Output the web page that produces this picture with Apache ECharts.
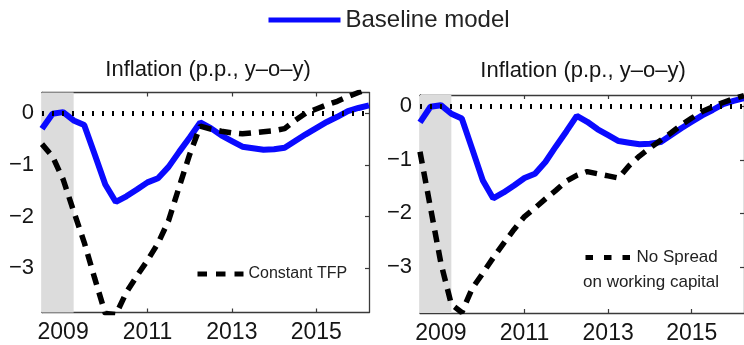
<!DOCTYPE html>
<html>
<head>
<meta charset="utf-8">
<script src="https://cdn.jsdelivr.net/npm/echarts@6/dist/echarts.min.js"></script>
<style>
  html, body { margin: 0; padding: 0; background: #fff; }
  #chart { width: 744px; height: 345px; }
</style>
</head>
<body>
<div id="chart"></div>
<script>
// Quarterly observations (decimal years)
const quarters = [2008.5, 2008.75, 2009, 2009.25, 2009.5, 2009.75, 2010, 2010.25,
  2010.5, 2010.75, 2011, 2011.25, 2011.5, 2011.75, 2012, 2012.25,
  2012.5, 2012.75, 2013, 2013.25, 2013.5, 2013.75, 2014, 2014.25,
  2014.5, 2014.75, 2015, 2015.25, 2015.5, 2015.75, 2016, 2016.25];

// Inflation deviation, percentage points y-o-y
const baseline = [-0.30, -0.01, 0.02, -0.14, -0.23, -0.80, -1.38, -1.72,
  -1.61, -1.48, -1.34, -1.26, -1.04, -0.75, -0.47, -0.18,
  -0.29, -0.43, -0.54, -0.65, -0.68, -0.71, -0.70, -0.67,
  -0.54, -0.41, -0.29, -0.17, -0.07, 0.04, 0.10, 0.15];
const constantTFP = [-0.60, -0.84, -1.28, -1.90, -2.50, -3.20, -3.88, -3.90,
  -3.47, -3.15, -2.85, -2.52, -2.08, -1.43, -0.80, -0.25,
  -0.31, -0.35, -0.38, -0.40, -0.38, -0.36, -0.34, -0.30,
  -0.14, 0.00, 0.08, 0.16, 0.23, 0.32, 0.40, 0.47];
const noSpread = [-0.85, -1.89, -2.93, -3.70, -3.85, -3.40, -3.12, -2.83,
  -2.56, -2.30, -2.06, -1.90, -1.73, -1.57, -1.40, -1.29,
  -1.22, -1.26, -1.30, -1.34, -1.11, -0.93, -0.78, -0.64,
  -0.50, -0.35, -0.22, -0.10, -0.01, 0.07, 0.14, 0.20];

const yearTicks = [2009, 2011, 2013, 2015];
const valueTicks = [-3, -2, -1, 0];
const recession = [2008.5, 2009.25];
const panelTitle = 'Inflation (p.p., y\u2013o\u2013y)';

const FONT = '"Liberation Sans", Arial, Helvetica, sans-serif';
const INK = '#151515';
const AXIS = '#3a3a3a';
const BLUE = '#0a0aff';

const pairs = ys => quarters.map((q, i) => [q, ys[i]]);

const panels = [
  { left: 42, top: 92.5, width: 327, height: 220, ymin: -3.86, ymax: 0.40 },
  { left: 420, top: 95, width: 325, height: 219, ymin: -3.86, ymax: 0.21 }
];

const grid = panels.map(p => ({ left: p.left, top: p.top, width: p.width, height: p.height, containLabel: false }));

const tickStyle = { show: true, inside: true, length: 4, lineStyle: { color: AXIS, width: 1.2 } };
const lineStyleAxis = { show: true, onZero: false, lineStyle: { color: AXIS, width: 1.3 } };

const xAxis = [];
const yAxis = [];
panels.forEach((p, g) => {
  ['bottom', 'top'].forEach(pos => {
    xAxis.push({
      type: 'value', gridIndex: g, position: pos,
      min: quarters[0], max: quarters[quarters.length - 1],
      axisLine: lineStyleAxis,
      axisTick: Object.assign({ customValues: yearTicks }, tickStyle),
      axisLabel: {
        show: pos === 'bottom', customValues: yearTicks, margin: 9,
        fontSize: 23, color: INK, fontFamily: FONT,
        formatter: v => String(v)
      },
      splitLine: { show: false }
    });
  });
  ['left', 'right'].forEach(pos => {
    yAxis.push({
      type: 'value', gridIndex: g, position: pos,
      min: p.ymin, max: p.ymax,
      axisLine: lineStyleAxis,
      axisTick: Object.assign({ customValues: valueTicks }, tickStyle),
      axisLabel: {
        show: pos === 'left', customValues: valueTicks, margin: 8,
        fontSize: 22, color: INK, fontFamily: FONT,
        formatter: v => (v < 0 ? '\u2212' + Math.abs(v) : String(v))
      },
      splitLine: { show: false }
    });
  });
});

function panelSeries(g, altName, altData) {
  const xi = g * 2, yi = g * 2;
  return [
    {
      // recession shading and the zero reference line
      type: 'line', xAxisIndex: xi, yAxisIndex: yi, data: [], z: 1, silent: true,
      markArea: {
        silent: true,
        itemStyle: { color: '#dcdcdc', opacity: 1 },
        data: [[{ xAxis: recession[0] }, { xAxis: recession[1] }]]
      },
      markLine: {
        silent: true, symbol: ['none', 'none'], label: { show: false },
        lineStyle: { color: '#000', width: 5, type: [2, 8], opacity: 1 },
        emphasis: { disabled: true },
        data: [{ yAxis: 0 }]
      }
    },
    {
      name: 'Baseline model', type: 'line', xAxisIndex: xi, yAxisIndex: yi,
      data: pairs(baseline), symbol: 'none', z: 3, silent: true,
      lineStyle: { color: BLUE, width: 6 }, itemStyle: { color: BLUE }
    },
    {
      name: altName, type: 'line', xAxisIndex: xi, yAxisIndex: yi,
      data: pairs(altData), symbol: 'none', z: 4, silent: true,
      lineStyle: { color: '#000', width: 5.5, type: [12, 8] }, itemStyle: { color: '#000' }
    }
  ];
}

const series = [
  ...panelSeries(0, 'Constant TFP', constantTFP),
  ...panelSeries(1, 'No Spread on working capital', noSpread)
];

// line-only legend keys (the marker dot is hidden)
const hiddenDot = { opacity: 0, borderWidth: 0 };
const legend = [
  {
    data: ['Baseline model'], left: 266, top: 8, padding: 0,
    itemWidth: 72, itemHeight: 20, selectedMode: false,
    itemStyle: hiddenDot,
    lineStyle: { width: 5, color: BLUE },
    textStyle: { fontSize: 24, color: '#222', fontFamily: FONT }
  },
  {
    data: ['Constant TFP'], left: 195, top: 266, padding: 0,
    itemWidth: 46, itemHeight: 14, selectedMode: false,
    itemStyle: hiddenDot,
    lineStyle: { width: 5, color: '#000', type: [9.5, 9] },
    textStyle: { fontSize: 16, color: '#222', fontFamily: FONT }
  },
  {
    data: ['No Spread on working capital'], left: 583, top: 249, padding: 0,
    itemWidth: 46, itemHeight: 14, selectedMode: false,
    itemStyle: hiddenDot,
    formatter: () => 'No Spread',
    lineStyle: { width: 5, color: '#000', type: [7.5, 11] },
    textStyle: { fontSize: 17, color: '#222', fontFamily: FONT }
  }
];

const graphic = [
  { type: 'text', x: 208, y: 69.5, silent: true,
    style: { text: panelTitle, align: 'center', verticalAlign: 'middle', fontSize: 22, fontFamily: FONT, fill: INK } },
  { type: 'text', x: 583, y: 71, silent: true,
    style: { text: panelTitle, align: 'center', verticalAlign: 'middle', fontSize: 22, fontFamily: FONT, fill: INK } },
  { type: 'text', x: 583, y: 282, silent: true,
    style: { text: 'on working capital', align: 'left', verticalAlign: 'middle', fontSize: 17, fontFamily: FONT, fill: '#222' } }
];

const chart = echarts.init(document.getElementById('chart'), null, { renderer: 'canvas' });
chart.setOption({
  backgroundColor: '#fff',
  animation: false,
  grid, xAxis, yAxis, series, legend, graphic,
  tooltip: { show: false }
});
</script>
</body>
</html>
